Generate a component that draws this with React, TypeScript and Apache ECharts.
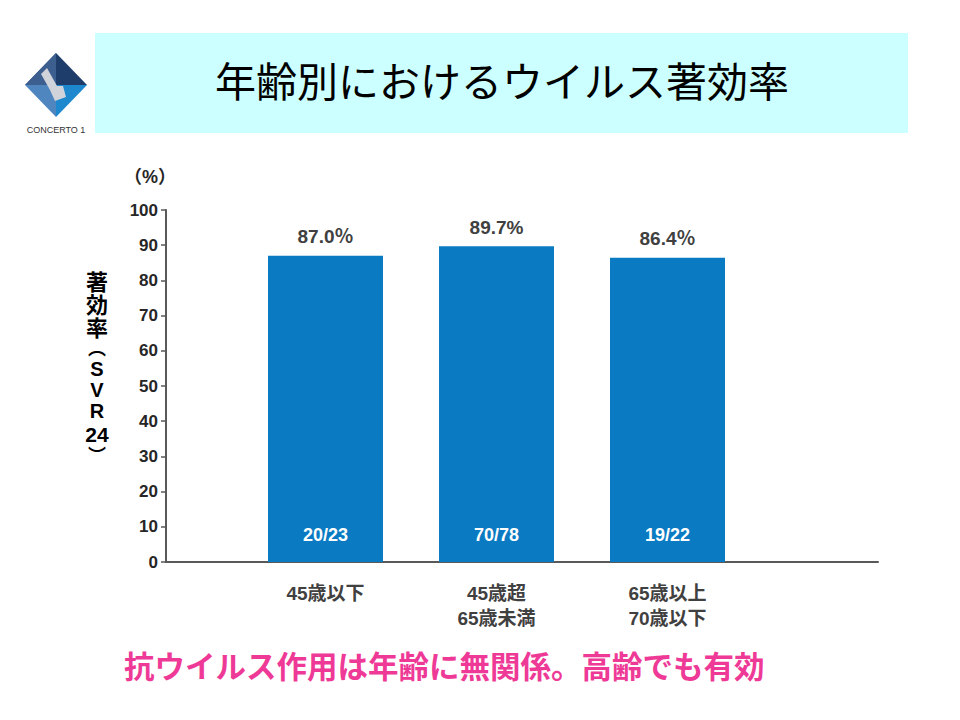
import React, { useEffect, useRef } from "react";
import * as echarts from "echarts";

const categories = ["45歳以下", "45歳超\n65歳未満", "65歳以上\n70歳以下"];
const rates = [87.0, 89.7, 86.4];
const rateLabels = ["87.0％", "89.7%", "86.4％"];
const fractions = ["20/23", "70/78", "19/22"];

const FONT = "'Liberation Sans', 'Noto Sans CJK JP', sans-serif";

const yTitleParts: [string, number, number][] = [
  ["著", 282, 22],
  ["効", 305, 22],
  ["率", 328, 22],
  ["︵", 349, 18],
  ["S", 369, 20],
  ["V", 390, 20],
  ["R", 411, 20],
  ["24", 434, 21],
  ["︶", 456, 18],
];

export default function App() {
  const ref = useRef<HTMLDivElement>(null);
  useEffect(() => {
    if (!ref.current) return;
    const chart = echarts.init(ref.current, undefined, { renderer: "svg" });
    const option: any = {
      animation: false,
      backgroundColor: "#ffffff",
      textStyle: { fontFamily: FONT },
      grid: [
        { left: 166, right: 82, top: 210, bottom: 158 },
        { left: 240, width: 513, top: 210, bottom: 158 },
      ],
      xAxis: [
        {
          gridIndex: 0,
          type: "value",
          min: 0,
          max: 1,
          axisLine: { show: true, lineStyle: { color: "#595959", width: 2 } },
          axisTick: { show: false },
          axisLabel: { show: false },
          splitLine: { show: false },
        },
        {
          gridIndex: 1,
          type: "category",
          data: categories,
          axisLine: { show: false },
          axisTick: { show: false },
          axisLabel: {
            margin: 19,
            color: "#404040",
            fontSize: 19,
            fontWeight: "bold",
            lineHeight: 25,
            fontFamily: FONT,
          },
        },
      ],
      yAxis: [
        {
          gridIndex: 0,
          type: "value",
          min: 0,
          max: 100,
          interval: 10,
          axisLine: { show: true, lineStyle: { color: "#595959", width: 2 } },
          axisTick: { show: true, length: 5, lineStyle: { color: "#595959", width: 1.5 } },
          axisLabel: {
            color: "#262626",
            fontSize: 17,
            fontWeight: "bold",
            margin: 8,
            fontFamily: FONT,
          },
          splitLine: { show: false },
        },
        {
          gridIndex: 1,
          type: "value",
          min: 0,
          max: 100,
          show: false,
        },
      ],
      series: [
        {
          type: "bar",
          xAxisIndex: 1,
          yAxisIndex: 1,
          data: rates,
          barWidth: 115,
          itemStyle: { color: "#0a7bc3" },
          label: {
            show: true,
            position: "insideBottom",
            distance: 18,
            color: "#ffffff",
            fontSize: 18,
            fontWeight: "bold",
            fontFamily: FONT,
            formatter: (p: any) => fractions[p.dataIndex],
          },
        },
        {
          type: "scatter",
          xAxisIndex: 1,
          yAxisIndex: 1,
          data: rates,
          symbolSize: 1,
          itemStyle: { color: "transparent", opacity: 1 },
          label: {
            show: true,
            position: "top",
            distance: 9,
            color: "#404040",
            opacity: 1,
            fontSize: 19,
            fontWeight: "bold",
            fontFamily: FONT,
            formatter: (p: any) => rateLabels[p.dataIndex],
          },
        },
      ],
      graphic: [
        {
          type: "rect",
          shape: { x: 95, y: 33, width: 813, height: 100 },
          style: { fill: "#ccffff" },
          silent: true,
        },
        {
          type: "text",
          x: 502,
          y: 83,
          style: {
            text: "年齢別におけるウイルス著効率",
            fontSize: 41,
            fontFamily: FONT,
            fill: "#000000",
            align: "center",
            verticalAlign: "middle",
          },
        },
        // logo
        { type: "polygon", shape: { points: [[56, 53], [87, 85], [56, 85], [25, 85]] }, style: { fill: "#1f3d6b" } },
        { type: "polygon", shape: { points: [[25, 85], [56, 85], [56, 117]] }, style: { fill: "#4f86bf" } },
        { type: "polygon", shape: { points: [[56, 85], [87, 85], [56, 117]] }, style: { fill: "#1e88cf" } },
        { type: "polygon", shape: { points: [[25, 85], [56, 53], [56, 85]] }, style: { fill: "#3d5f8f" } },
        { type: "polygon", shape: { points: [[41, 74], [47, 68], [57, 86], [63, 86], [66, 97], [55, 101], [50, 90]] }, style: { fill: "#d0d4da" } },
        {
          type: "text",
          x: 56,
          y: 130,
          style: { text: "CONCERTO 1", fontSize: 9, fontFamily: FONT, fill: "#333333", align: "center", verticalAlign: "middle" },
        },
        {
          type: "text",
          x: 150,
          y: 177,
          style: { text: "（%）", fontSize: 18, fontWeight: "bold", fontFamily: FONT, fill: "#262626", align: "center", verticalAlign: "middle" },
        },
        ...yTitleParts.map(([t, y, s]) => ({
          type: "text",
          x: 97,
          y,
          style: {
            text: t,
            fontSize: s,
            fontWeight: "bold",
            fontFamily: FONT,
            fill: "#000000",
            align: "center",
            verticalAlign: "middle",
          },
        })),
        {
          type: "text",
          x: 124,
          y: 667,
          style: {
            text: "抗ウイルス作用は年齢に無関係。高齢でも有効",
            fontSize: 30.5,
            fontWeight: "bold",
            fontFamily: FONT,
            fill: "#ee3a96",
            align: "left",
            verticalAlign: "middle",
          },
        },
      ],
    };
    chart.setOption(option);
    return () => chart.dispose();
  }, []);
  return (
    <div
      ref={ref}
      style={{ position: "fixed", left: 0, top: 0, width: 960, height: 720 }}
    />
  );
}
